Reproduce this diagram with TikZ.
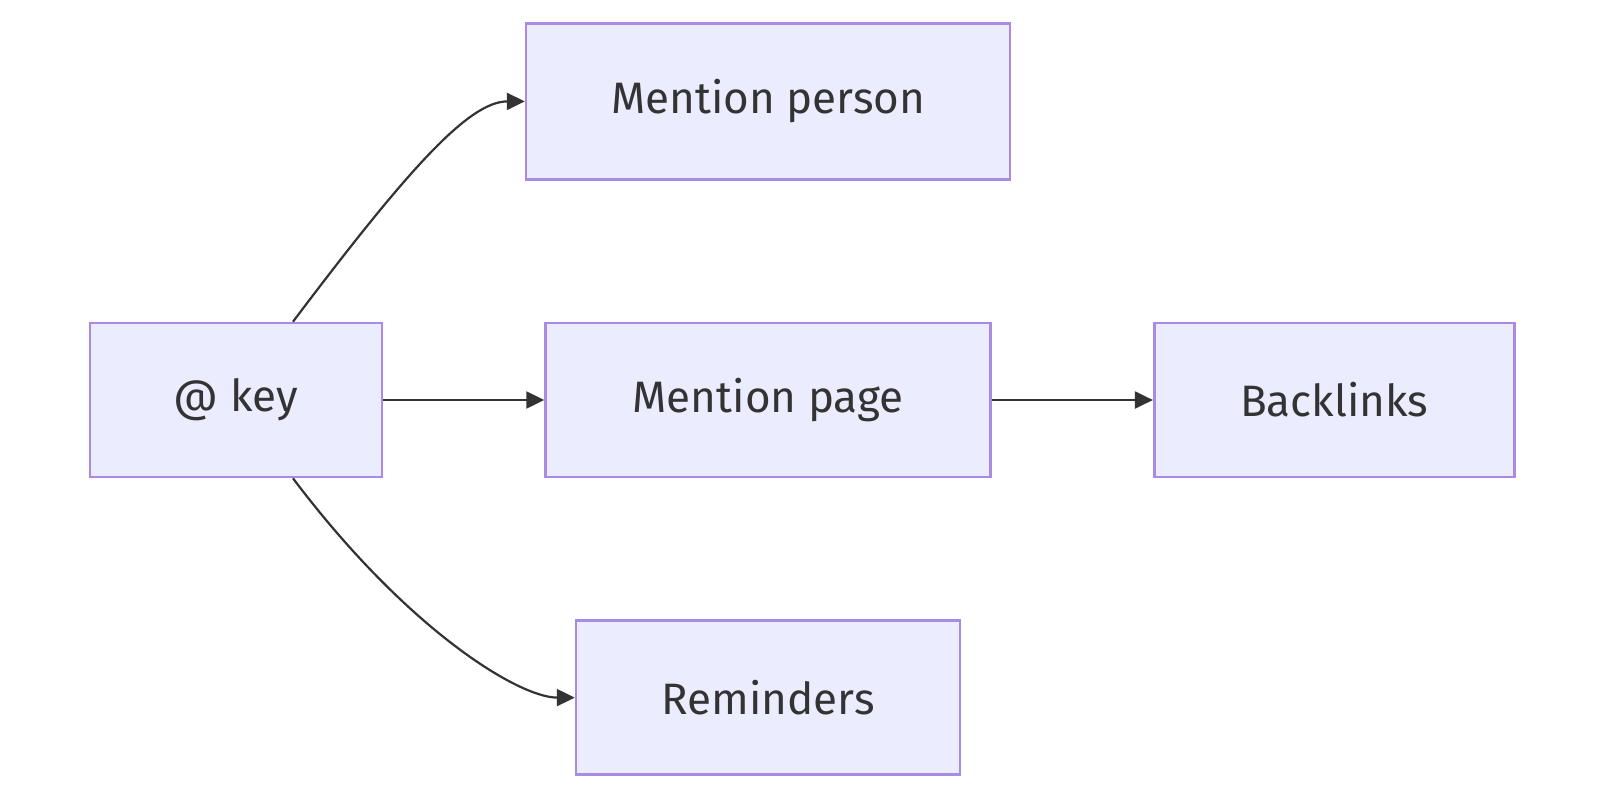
\documentclass[tikz,border=0pt]{standalone}
\usepackage{fontspec}
\setmainfont{Fira Sans}
\usetikzlibrary{arrows.meta,positioning}
\definecolor{mmdfill}{HTML}{ECECFF}
\definecolor{mmdline}{HTML}{A98BE6}
\definecolor{mmdtext}{HTML}{333333}
\tikzset{
  mbox/.style={draw=mmdline,fill=mmdfill,line width=1.3pt,text=mmdtext,
               font=\fontsize{22}{26}\selectfont,minimum height=77pt,inner sep=0pt},
  link/.style={-{Triangle[length=9pt,width=8.5pt]},draw=mmdtext,line width=1.1pt},
}
\begin{document}
\begin{tikzpicture}[x=0.5pt,y=-0.5pt,node distance=70.5pt and 80.5pt]
\useasboundingbox (0,0) rectangle (1600,800);
% --- nodes ---
\node[mbox,minimum width=146pt] (key) at (236,400) {@ key};
\node[mbox,minimum width=222.5pt,right=of key] (page) {Mention page};
\node[mbox,minimum width=180pt,right=of page] (back) {Backlinks};
\node[mbox,minimum width=242pt,minimum height=78pt,above=of page] (person) {Mention person};
\node[mbox,minimum width=192pt,below=of page] (rem) {Reminders};
% --- links ---
\draw[link] (key) -- (page);
\draw[link] (page) -- (back);
\draw[link] ([xshift=28.5pt]key.north) .. controls +(53:95pt) and +(-28pt,0pt) .. (person.west);
\draw[link] ([xshift=28.5pt]key.south) .. controls +(-53:95pt) and +(-28pt,0pt) .. (rem.west);
\end{tikzpicture}
\end{document}
